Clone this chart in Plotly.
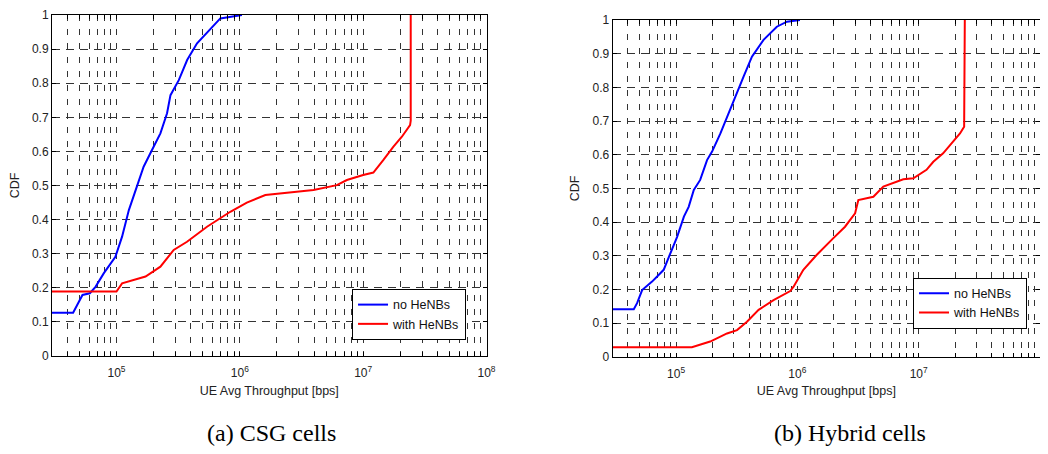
import plotly.graph_objects as go

# ---------------- data ----------------
# (a) CSG cells
csg_no_x = [2.5e4, 4.45e4, 5.3e4, 6.08e4, 6.76e4, 7.9e4, 9.8e4, 1.11e5, 1.26e5, 1.47e5, 1.66e5,
            1.94e5, 2.27e5, 2.57e5, 2.74e5, 3.2e5, 3.74e5, 4.5e5, 5.76e5, 6.95e5, 1.04e6]
csg_no_y = [0.127, 0.127, 0.179, 0.184, 0.203, 0.243, 0.291, 0.35, 0.428, 0.497, 0.555,
            0.604, 0.653, 0.712, 0.765, 0.809, 0.868, 0.917, 0.96, 0.99, 1.0]
csg_with_x = [2.5e4, 1.0e5, 1.11e5, 1.72e5, 2.27e5, 2.91e5, 3.73e5, 5.42e5, 8.37e5, 1.14e6, 1.61e6,
              2.56e6, 3.96e6, 6.12e6, 7.38e6, 1.0e7, 1.21e7, 1.46e7, 1.76e7, 2.06e7, 2.4e7, 2.43e7, 2.43e7]
csg_with_y = [0.189, 0.189, 0.213, 0.233, 0.262, 0.311, 0.335, 0.379, 0.423, 0.45, 0.472,
              0.479, 0.487, 0.501, 0.516, 0.531, 0.538, 0.575, 0.614, 0.643, 0.677, 0.69, 1.0]

# (b) Hybrid cells
hyb_no_x = [2.5e4, 4.48e4, 4.77e4, 5.25e4, 6.34e4, 7.9e4, 8.97e4, 1.02e5, 1.16e5, 1.27e5, 1.4e5,
            1.58e5, 1.8e5, 1.98e5, 2.32e5, 2.63e5, 3.08e5, 3.6e5, 4.22e5, 5.26e5, 6.77e5, 8.2e5, 1.05e6]
hyb_no_y = [0.141, 0.141, 0.159, 0.198, 0.223, 0.258, 0.307, 0.356, 0.416, 0.445, 0.495,
            0.525, 0.584, 0.609, 0.663, 0.713, 0.772, 0.832, 0.891, 0.941, 0.98, 0.995, 1.0]
hyb_with_x = [2.5e4, 1.35e5, 1.91e5, 2.63e5, 3.18e5, 3.84e5, 4.79e5, 6.36e5, 8.73e5, 9.3e5, 1.12e6,
              1.44e6, 1.98e6, 2.47e6, 2.99e6, 3.18e6, 4.23e6, 5.11e6, 7.47e6, 9.03e6, 1.16e7,
              1.32e7, 1.59e7, 1.87e7, 2.19e7, 2.37e7, 2.4e7]
hyb_with_y = [0.028, 0.028, 0.045, 0.069, 0.079, 0.104, 0.139, 0.168, 0.195, 0.208, 0.258,
              0.302, 0.352, 0.386, 0.426, 0.465, 0.475, 0.505, 0.527, 0.53, 0.555,
              0.579, 0.604, 0.634, 0.663, 0.683, 1.0]

series_names = ["no HeNBs", "with HeNBs"]
captions = ["(a) CSG cells", "(b) Hybrid cells"]
decades = [4, 5, 6, 7]
y_ticks = [i / 10 for i in range(11)]
y_ticktext = ["0", "0.1", "0.2", "0.3", "0.4", "0.5", "0.6", "0.7", "0.8", "0.9", "1"]

# ---------------- figure ----------------
# The page body has an 8px margin, so the figure is 1040x446 inside the 1048x454 window.
x_tickvals, x_ticktext = [], []
for k in decades:
    for m in range(1, 10):
        v = m * 10 ** k
        if v >= 3e4:
            x_tickvals.append(v)
            x_ticktext.append(f"10<sup>{k}</sup>" if m == 1 else "")
x_tickvals.append(1e8)
x_ticktext.append("10<sup>8</sup>")

fig = go.Figure()
BLUE, RED = "#0000ff", "#ff0000"

panels = [
    (csg_no_x, csg_no_y, csg_with_x, csg_with_y, "x", "y", "legend"),
    (hyb_no_x, hyb_no_y, hyb_with_x, hyb_with_y, "x2", "y2", "legend2"),
]
for nx, ny, wx, wy, xa, ya, lg in panels:
    fig.add_trace(go.Scatter(x=nx, y=ny, mode="lines", name=series_names[0],
                             line=dict(color=BLUE, width=2), xaxis=xa, yaxis=ya, legend=lg))
    fig.add_trace(go.Scatter(x=wx, y=wy, mode="lines", name=series_names[1],
                             line=dict(color=RED, width=2), xaxis=xa, yaxis=ya, legend=lg))

SANS = "Liberation Sans, Arial, sans-serif"
tick_font = dict(family=SANS, size=12, color="#222")
title_font = dict(family=SANS, size=12.5, color="#222")
grid_col = "#333333"

def xaxis_cfg(domain, anchor):
    return dict(type="log", range=[4.4771, 8], domain=domain, anchor=anchor,
                tickmode="array", tickvals=x_tickvals, ticktext=x_ticktext,
                ticks="inside", ticklen=4, tickcolor="black", mirror="ticks",
                showline=True, linecolor="black", linewidth=1,
                showgrid=True, gridcolor=grid_col, gridwidth=1, griddash="6px,8px",
                zeroline=False, tickfont=tick_font, automargin=False, ticklabelstandoff=6,
                title=dict(text="UE Avg Throughput [bps]", font=title_font, standoff=6))

def yaxis_cfg(domain, anchor):
    return dict(range=[0, 1], domain=domain, anchor=anchor,
                tickmode="array", tickvals=y_ticks, ticktext=y_ticktext,
                ticks="inside", ticklen=4, tickcolor="black", mirror="ticks",
                showline=True, linecolor="black", linewidth=1,
                showgrid=True, gridcolor=grid_col, gridwidth=1, griddash="8px,6px",
                zeroline=False, tickfont=tick_font, automargin=False,
                title=dict(text="CDF", font=title_font, standoff=10))

leg_common = dict(bgcolor="white", bordercolor="black", borderwidth=1,
                  font=dict(family=SANS, size=12.5, color="#111"),
                  xanchor="left", yanchor="top", tracegroupgap=0,
                  entrywidth=78, entrywidthmode="pixels")

fig.update_layout(
    width=1040, height=446,
    margin=dict(l=0, r=0, t=0, b=0),
    paper_bgcolor="white", plot_bgcolor="white",
    xaxis=xaxis_cfg([0.0423, 0.4601], "y"),
    yaxis=yaxis_cfg([0.2197, 0.9843], "x"),
    xaxis2=xaxis_cfg([0.5814, 0.9923], "y2"),
    yaxis2=yaxis_cfg([0.2182, 0.9731], "x2"),
    legend=dict(x=0.3308, y=0.37, **leg_common),
    legend2=dict(x=0.8702, y=0.3953, **leg_common),
    showlegend=True,
)

for cap, cx in zip(captions, [0.2529, 0.8096]):
    fig.add_annotation(text=cap, x=cx, y=0.047, xref="paper", yref="paper",
                       xanchor="center", yanchor="middle", showarrow=False,
                       font=dict(family="Liberation Serif, Times New Roman, serif", size=24, color="black"))

fig.write_html("out.html")
